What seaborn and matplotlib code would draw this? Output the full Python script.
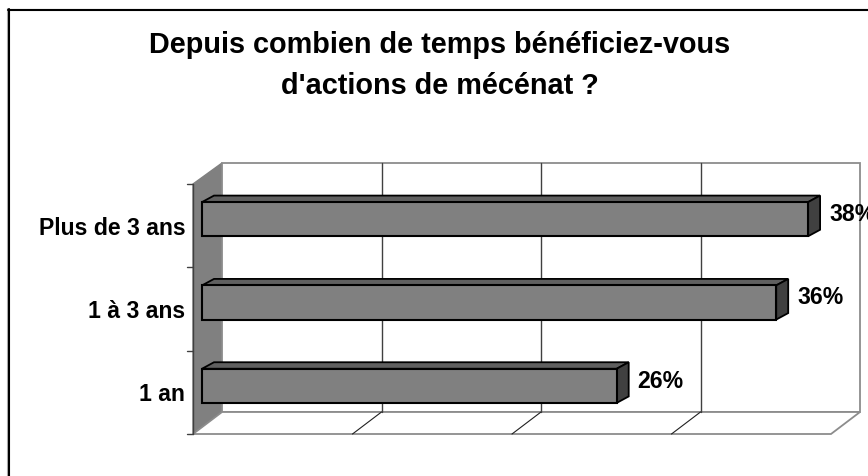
import matplotlib
matplotlib.use("Agg")
import matplotlib.pyplot as plt
import matplotlib.transforms as mtrans
from matplotlib.lines import Line2D
from matplotlib.patches import Polygon, Rectangle
import pandas as pd
import seaborn as sns

# Data
categories = ["Plus de 3 ans", "1 à 3 ans", "1 an"]
values = [38, 36, 26]
x_ticks = [0, 10, 20, 30, 40]

W, H = 868, 476
DEPTH_X, DEPTH_Y = 29, 22   # wall depth in pixels

sns.set_theme(style="white")
plt.rcParams["font.family"] = ["Liberation Sans", "DejaVu Sans"]

df = pd.DataFrame({"cat": categories, "val": values})

fig = plt.figure(figsize=(W / 100, H / 100), dpi=100, facecolor="white")
ax = fig.add_axes([193 / W, 1 - 434 / H, 638 / W, 250 / H])
ax.patch.set_visible(False)

sns.barplot(data=df, y="cat", x="val", color="#808080", saturation=1, width=0.41,
            edgecolor="black", linewidth=1.5, ax=ax, zorder=5)
ax.set_xlim(x_ticks[0], x_ticks[-1])
ax.set_ylim(2.5, -0.5)
ax.set_xlabel("")
ax.set_ylabel("")
ax.set_xticks(x_ticks)
ax.set_xticklabels([])
ax.tick_params(axis="x", length=0)
ax.set_yticks([0, 1, 2])
ax.set_yticklabels(categories, fontsize=16.6, fontweight="bold", color="black")
ax.tick_params(axis="y", length=0, pad=5.5)
for s in ax.spines.values():
    s.set_visible(False)


def shift(dx, dy):
    # data coords moved right and up by some pixels
    return ax.transData + mtrans.Affine2D().translate(dx, dy)


# pixel coords of the picture, y going down
pix = mtrans.Affine2D().scale(1, -1).translate(0, H)

# outer frame, only top and left are inside the picture
fig.add_artist(Line2D([7.5, 868], [8.5, 8.5], transform=pix, color="#b0b0b0", linewidth=0.8))
fig.add_artist(Line2D([7, 7], [8, 476], transform=pix, color="#b0b0b0", linewidth=0.8))
fig.add_artist(Line2D([8, 868], [10, 10], transform=pix, color="black", linewidth=1.5))
fig.add_artist(Line2D([9, 9], [9, 476], transform=pix, color="black", linewidth=1.5))

# walls
ax.add_patch(Polygon([(193, 184), (222, 163), (222, 412), (193, 434)], transform=pix, closed=True,
                     facecolor="#808080", edgecolor="#808080", linewidth=1, clip_on=False, zorder=1))
ax.add_patch(Rectangle((222, 163), 638, 249, transform=pix, facecolor="white",
                       edgecolor="#8c8c8c", linewidth=1.3, clip_on=False, zorder=1.1))
ax.add_patch(Polygon([(193, 434), (222, 412), (860, 412), (831, 434)], transform=pix, closed=True,
                     facecolor="white", edgecolor="#8c8c8c", linewidth=1.3, clip_on=False, zorder=1.2))
ax.plot([193, 193], [184, 434], transform=pix, color="#404040", linewidth=1, clip_on=False, zorder=2)

# gridlines on back wall and floor
for t in x_ticks[1:-1]:
    x0 = ax.transData.transform((t, 2.5))[0]
    ax.plot([x0, x0 + DEPTH_X], [H - 434, H - 412], transform=None, color="#202020",
            linewidth=0.8, clip_on=False, zorder=1.3)
    ax.plot([x0 + DEPTH_X, x0 + DEPTH_X], [H - 412, H - 163], transform=None, color="#404040",
            linewidth=1, clip_on=False, zorder=1.3)

# y ticks on front edge of left wall
for t in [-0.5, 0.5, 1.5, 2.5]:
    y0 = ax.transData.transform((0, t))[1]
    ax.plot([187, 193], [y0, y0], transform=None, color="#404040", linewidth=1, clip_on=False, zorder=2)

# bars: moved back from the front edge, plus the 3d faces
BAR_DX, BAR_DY = 9, 6.5
TOP_DX, TOP_DY = 12, 6.5
for bar, v in zip(ax.patches, values):
    if not isinstance(bar, Rectangle) or bar.get_width() != v:
        continue
    y0, y1 = bar.get_y(), bar.get_y() + bar.get_height()
    tr = shift(BAR_DX, BAR_DY)
    bar.set_transform(tr)
    bar.set_clip_on(False)
    bar.set_zorder(6)
    # data y is inverted, so y0 is the top edge of the bar
    a = tr.transform([(0, y0), (v, y0), (v, y1)])
    top = [a[0], a[1], a[1] + (TOP_DX, TOP_DY), a[0] + (TOP_DX, TOP_DY)]
    side = [a[1], a[2], a[2] + (TOP_DX, TOP_DY), a[1] + (TOP_DX, TOP_DY)]
    ax.add_patch(Polygon(top, closed=True, transform=None, facecolor="#606060", edgecolor="black",
                         linewidth=1.3, clip_on=False, zorder=5.5))
    ax.add_patch(Polygon(side, closed=True, transform=None, facecolor="#404040", edgecolor="black",
                         linewidth=1.3, clip_on=False, zorder=5.5))
    ax.text(v, (y0 + y1) / 2, f"{v}%", transform=shift(BAR_DX + 21, BAR_DY + 4.5), ha="left", va="center",
            fontsize=16.6, fontweight="bold", color="black", zorder=1.15, clip_on=False)

# title
fig.text(440 / W, 1 - 45 / H, "Depuis combien de temps bénéficiez-vous", ha="center", va="center",
         fontsize=20.8, fontweight="bold", color="black")
fig.text(440 / W, 1 - 86 / H, "d'actions de mécénat ?", ha="center", va="center",
         fontsize=20.8, fontweight="bold", color="black")

fig.savefig("out.png", dpi=100)
